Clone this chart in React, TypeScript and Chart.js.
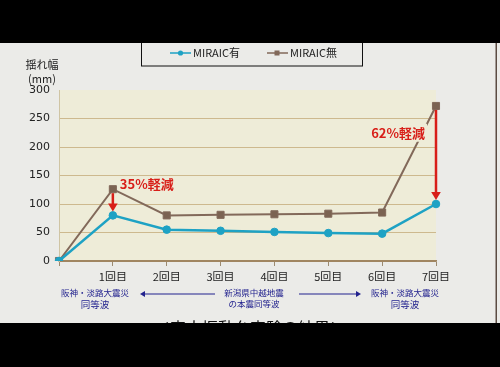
import React, { useEffect, useRef } from "react";
import { Chart, registerables } from "chart.js";
Chart.register(...registerables);

const categories = ["", "1回目", "2回目", "3回目", "4回目", "5回目", "6回目", "7回目"];
const seriesWith = [0, 80, 55, 53, 51, 49, 48, 100];
const seriesWithout = [0, 126, 80, 81, 82, 83, 85, 272];
const seriesNames = ["MIRAIC有", "MIRAIC無"];
const yTicks = [0, 50, 100, 150, 200, 250, 300];
const notes = [
  { index: 1, text: "35%軽減" },
  { index: 7, text: "62%軽減" },
];

const CYAN = "#1ea2c4";
const BROWN = "#82695a";
const BLUE = "#22228e";
const RED = "#d81e18";
const JP = "'Noto Sans CJK JP', 'Noto Sans', sans-serif";

function arrow(ctx: CanvasRenderingContext2D, x1: number, y1: number, x2: number, y2: number, color: string, w: number, head: number) {
  const ang = Math.atan2(y2 - y1, x2 - x1);
  ctx.save();
  ctx.strokeStyle = color;
  ctx.fillStyle = color;
  ctx.lineWidth = w;
  ctx.beginPath();
  ctx.moveTo(x1, y1);
  ctx.lineTo(x2 - Math.cos(ang) * head * 0.8, y2 - Math.sin(ang) * head * 0.8);
  ctx.stroke();
  ctx.beginPath();
  ctx.moveTo(x2, y2);
  ctx.lineTo(x2 - Math.cos(ang) * head + Math.sin(ang) * head * 0.6, y2 - Math.sin(ang) * head - Math.cos(ang) * head * 0.6);
  ctx.lineTo(x2 - Math.cos(ang) * head - Math.sin(ang) * head * 0.6, y2 - Math.sin(ang) * head + Math.cos(ang) * head * 0.6);
  ctx.closePath();
  ctx.fill();
  ctx.restore();
}

const decor = {
  id: "decor",
  beforeDraw(chart: any) {
    const { ctx, chartArea: a } = chart;
    ctx.save();
    ctx.fillStyle = "#ebebe8";
    ctx.fillRect(0, 0, chart.width, chart.height);
    ctx.fillStyle = "#eeecd8";
    ctx.fillRect(a.left, a.top, a.right - a.left, a.bottom - a.top);
    ctx.restore();
  },
  afterDraw(chart: any) {
    const { ctx } = chart;
    const xs = chart.scales.x;
    const ys = chart.scales.y;
    ctx.save();
    // y axis title
    ctx.fillStyle = "#222";
    ctx.textAlign = "center";
    ctx.textBaseline = "middle";
    ctx.font = `11px ${JP}`;
    ctx.fillText("揺れ幅", 42, 65);
    ctx.fillText("(mm)", 42, 79);

    // annotations
    notes.forEach((n, k) => {
      const x = xs.getPixelForValue(n.index);
      const yTop = ys.getPixelForValue(seriesWithout[n.index]);
      const yBot = ys.getPixelForValue(seriesWith[n.index]);
      arrow(ctx, x, yTop + 4, x, yBot - 4, RED, 2.5, 8);
      ctx.font = `bold 13px ${JP}`;
      ctx.textBaseline = "middle";
      if (k === 0) {
        ctx.textAlign = "left";
        ctx.fillStyle = RED;
        ctx.fillText(n.text, x + 7, yTop - 5);
      } else {
        ctx.textAlign = "right";
        const tw = ctx.measureText(n.text).width;
        const ty = ys.getPixelForValue(225);
        ctx.fillStyle = "#eeecd8";
        ctx.fillRect(x - 11 - tw - 1, ty - 9, tw + 3, 18);
        ctx.fillStyle = RED;
        ctx.fillText(n.text, x - 11, ty);
      }
    });

    // legend
    ctx.strokeStyle = "#111";
    ctx.lineWidth = 1;
    ctx.strokeRect(141.5, 30, 221, 36);
    ctx.font = `11px ${JP}`;
    ctx.textAlign = "left";
    ctx.textBaseline = "middle";
    const items = [
      { x: 170, color: CYAN, square: false },
      { x: 267, color: BROWN, square: true },
    ];
    items.forEach((it, i) => {
      ctx.strokeStyle = it.color;
      ctx.fillStyle = it.color;
      ctx.lineWidth = 1.5;
      ctx.beginPath();
      ctx.moveTo(it.x, 53);
      ctx.lineTo(it.x + 21, 53);
      ctx.stroke();
      if (it.square) ctx.fillRect(it.x + 7.5, 50.5, 5, 5);
      else {
        ctx.beginPath();
        ctx.arc(it.x + 10.5, 53, 2.6, 0, Math.PI * 2);
        ctx.fill();
      }
      ctx.fillStyle = "#222";
      ctx.fillText(seriesNames[i], it.x + 23, 53);
    });

    // bottom blue texts
    ctx.fillStyle = BLUE;
    ctx.textAlign = "center";
    ctx.font = `8.5px ${JP}`;
    ctx.fillText("阪神・淡路大震災", 95, 293);
    ctx.fillText("阪神・淡路大震災", 405, 293);
    ctx.font = `9.5px ${JP}`;
    ctx.fillText("同等波", 95, 304);
    ctx.fillText("同等波", 405, 304);
    ctx.font = `8.5px ${JP}`;
    ctx.fillText("新潟県中越地震", 254, 293);
    ctx.fillText("の本震同等波", 254, 304);
    arrow(ctx, 215, 294, 140, 294, BLUE, 1.2, 5);
    arrow(ctx, 299, 294, 361, 294, BLUE, 1.2, 5);

    // caption
    ctx.fillStyle = "#111";
    ctx.font = `16px ${JP}`;
    ctx.textBaseline = "top";
    ctx.fillText("＜実大振動台実験の結果＞", 250, 320);

    // right frame line
    ctx.fillStyle = "#5b4b42";
    ctx.fillRect(495.5, 43, 1.5, 280);

    // letterbox bars
    ctx.fillStyle = "#000";
    ctx.fillRect(0, 0, chart.width, 43);
    ctx.fillRect(0, 323, chart.width, chart.height - 323);
    ctx.restore();
  },
};

export default function App() {
  const ref = useRef<HTMLCanvasElement>(null);
  useEffect(() => {
    document.body.style.margin = "0";
    const chart = new Chart(ref.current!, {
      type: "line",
      data: {
        labels: categories,
        datasets: [
          {
            label: seriesNames[0],
            data: seriesWith,
            borderColor: CYAN,
            backgroundColor: CYAN,
            borderWidth: 2.5,
            pointStyle: "circle",
            pointRadius: 3.8,
            pointHoverRadius: 3.8,
            pointBorderWidth: 1,
            tension: 0,
          },
          {
            label: seriesNames[1],
            data: seriesWithout,
            borderColor: BROWN,
            backgroundColor: "#7b6352",
            borderWidth: 2,
            pointStyle: "rect",
            pointRadius: 5,
            pointHoverRadius: 5,
            pointBorderWidth: 1,
            tension: 0,
          },
        ],
      },
      options: {
        responsive: false,
        animation: false,
        events: [],
        layout: { padding: { left: 0, right: 64, top: 90, bottom: 86 } },
        plugins: { legend: { display: false }, tooltip: { enabled: false } },
        scales: {
          x: {
            offset: false,
            grid: { drawOnChartArea: false, drawTicks: true, tickLength: 5, color: "#9c8a70" },
            border: { display: true, color: "#a08560", width: 1.5 },
            ticks: { color: "#222", font: { size: 11, family: JP }, padding: 4, maxRotation: 0, autoSkip: false },
            afterFit: (s: any) => { s.height = 20; },
          },
          y: {
            min: 0,
            max: 300,
            afterBuildTicks: (s: any) => { s.ticks = yTicks.map((v) => ({ value: v })); },
            grid: {
              drawTicks: false,
              color: (c: any) => (c.tick && c.tick.value === 300 ? "rgba(0,0,0,0)" : c.tick && c.tick.value === 0 ? "#a08560" : "#cdb98e"),
              lineWidth: 1,
            },
            border: { display: true, color: "#cfc4a4", width: 1 },
            ticks: { color: "#222", font: { size: 11, family: "'DejaVu Sans', sans-serif" }, padding: 9 },
            afterFit: (s: any) => { s.width = 59; },
          },
        },
      },
      plugins: [decor],
    });
    return () => chart.destroy();
  }, []);
  return (
    <div style={{ position: "fixed", left: 0, top: 0, width: 500, height: 367 }}>
      <canvas ref={ref} width={500} height={367} style={{ display: "block" }} />
    </div>
  );
}
